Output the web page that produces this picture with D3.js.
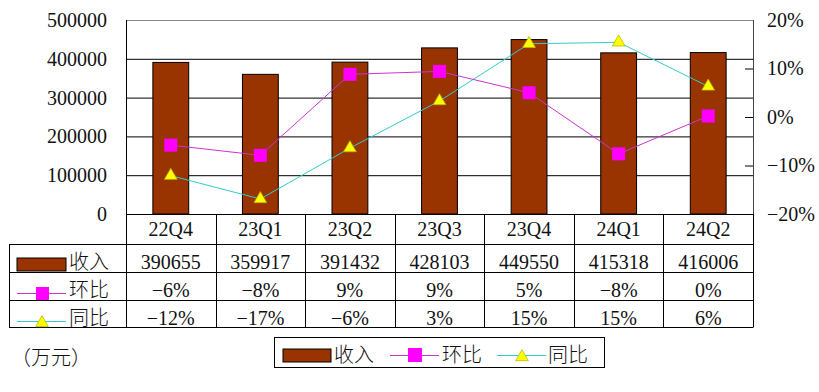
<!DOCTYPE html>
<html><head><meta charset="utf-8">
<script src="https://cdn.jsdelivr.net/npm/d3@7"></script>
<style>
body{margin:0;background:#fff;}
svg{display:block;}
text{fill:#111;}
</style></head>
<body><svg id="c" width="819" height="392"></svg>
<script>
const categories = ["22Q4","23Q1","23Q2","23Q3","23Q4","24Q1","24Q2"];
const revenue = [390655,359917,391432,428103,449550,415318,416006];
const qoq = [-5.8,-7.9,8.8,9.4,5.0,-7.6,0.2];
const yoy = [-12.1,-16.9,-6.4,3.3,15.1,15.4,6.3];
const qoqLabels = ["−6%","−8%","9%","9%","5%","−8%","0%"];
const yoyLabels = ["−12%","−17%","−6%","3%","15%","15%","6%"];
const leftTicks = [0,100000,200000,300000,400000,500000];
const rightTicks = [-20,-10,0,10,20];
const seriesNames = ["收入","环比","同比"];

const numFont = "'Liberation Serif','DejaVu Serif',serif";
const cjkFont = "'Noto Sans CJK SC','Noto Sans',sans-serif";
const brown = "#993300", magenta = "#FF00FF", magLine = "#CC33CC", teal = "#33CCCC", yellow = "#FFFF00";
const FS = 20;

const svg = d3.select("#c");
const L = 126, R = 753, T = 20, B = 214;
const x = d3.scaleBand().domain(categories).range([L, R]).padding(0);
const yL = d3.scaleLinear().domain([0,500000]).range([B, T]);
const yR = d3.scaleLinear().domain([-20,20]).range([B, T]);
const bw = x.bandwidth()*0.4;

// gridlines
svg.append("g").selectAll("line").data(leftTicks.slice(1)).join("line")
  .attr("x1", L).attr("x2", R).attr("y1", d=>yL(d)+0.5).attr("y2", d=>yL(d)+0.5)
  .attr("stroke", d=> d===500000 ? "#888" : "#000").attr("stroke-width",1);

// bars
svg.append("g").selectAll("rect").data(revenue).join("rect")
  .attr("x",(d,i)=>x(categories[i])+x.bandwidth()/2-bw/2)
  .attr("y",d=>yL(d)).attr("width",bw).attr("height",d=>B-yL(d))
  .attr("fill",brown).attr("stroke","#000").attr("stroke-width",1);

// plot borders
svg.append("line").attr("x1",L+0.5).attr("x2",L+0.5).attr("y1",T).attr("y2",327).attr("stroke","#000");
svg.append("line").attr("x1",R+0.5).attr("x2",R+0.5).attr("y1",T).attr("y2",B).attr("stroke","#444");

// left axis
const gL = svg.append("g").attr("transform",`translate(${L},0)`)
  .call(d3.axisLeft(yL).tickValues(leftTicks).tickSize(0).tickPadding(19).tickFormat(d=>String(d)));
gL.select(".domain").remove();
gL.selectAll("text").attr("font-family",numFont).attr("font-size",FS).attr("fill","#111");

// right axis
const gR = svg.append("g").attr("transform",`translate(${R},0)`)
  .call(d3.axisRight(yR).tickValues(rightTicks).tickSizeInner(-8).tickSizeOuter(0).tickPadding(14)
    .tickFormat(d=> (d<0?"−":"")+Math.abs(d)+"%"));
gR.select(".domain").remove();
gR.selectAll("line").attr("stroke",d=> (d===20||d===-20) ? "none" : "#000");
gR.selectAll("text").attr("font-family",numFont).attr("font-size",FS).attr("fill","#111");

// lines
const lineQ = d3.line().x((d,i)=>x(categories[i])+x.bandwidth()/2).y(d=>yR(d));
svg.append("path").datum(yoy).attr("d",lineQ).attr("fill","none").attr("stroke",teal).attr("stroke-width",1);
svg.append("path").datum(qoq).attr("d",lineQ).attr("fill","none").attr("stroke",magLine).attr("stroke-width",1);

const tri = d3.symbol().type(d3.symbolTriangle).size(70);
svg.append("g").selectAll("path").data(yoy).join("path")
  .attr("transform",(d,i)=>`translate(${x(categories[i])+x.bandwidth()/2},${yR(d)})`)
  .attr("d",tri()).attr("fill",yellow).attr("stroke","#b8b800").attr("stroke-width",0.8);
svg.append("g").selectAll("rect").data(qoq).join("rect")
  .attr("x",(d,i)=>x(categories[i])+x.bandwidth()/2-6.5).attr("y",d=>yR(d)-6.5)
  .attr("width",13).attr("height",13).attr("fill",magenta);

// table
const tL = 9;
const tg = svg.append("g");
[244,272,300,327].forEach(y=>{
  tg.append("line").attr("x1",tL).attr("x2",R+0.5).attr("y1",y+0.5).attr("y2",y+0.5).attr("stroke","#000");
});
tg.append("line").attr("x1",L).attr("x2",R).attr("y1",B+0.5).attr("y2",B+0.5).attr("stroke","#000");
tg.append("line").attr("x1",tL+0.5).attr("x2",tL+0.5).attr("y1",244).attr("y2",327).attr("stroke","#000");
categories.forEach((c,i)=>{
  const xr = x(c)+x.bandwidth();
  tg.append("line").attr("x1",Math.round(xr)+0.5).attr("x2",Math.round(xr)+0.5).attr("y1",B).attr("y2",327).attr("stroke","#000");
});
tg.selectAll("text.cat").data(categories).join("text").attr("class","cat")
  .attr("x",d=>x(d)+x.bandwidth()/2).attr("y",236).attr("text-anchor","middle")
  .attr("font-family",numFont).attr("font-size",FS).text(d=>d);
const rows = [revenue.map(String), qoqLabels, yoyLabels];
const rowBase = [269,297,325];
rows.forEach((r,ri)=>{
  tg.selectAll("text.r"+ri).data(r).join("text").attr("class","r"+ri)
    .attr("x",(d,i)=>x(categories[i])+x.bandwidth()/2).attr("y",rowBase[ri]).attr("text-anchor","middle")
    .attr("font-family",numFont).attr("font-size",FS).text(d=>d);
});
// row headers
tg.append("rect").attr("x",17).attr("y",258).attr("width",49).attr("height",13).attr("fill",brown).attr("stroke","#000");
tg.append("line").attr("x1",17).attr("x2",66).attr("y1",293.5).attr("y2",293.5).attr("stroke",magLine);
tg.append("rect").attr("x",36).attr("y",287).attr("width",13).attr("height",13).attr("fill",magenta);
tg.append("line").attr("x1",17).attr("x2",66).attr("y1",321.5).attr("y2",321.5).attr("stroke",teal);
tg.append("path").attr("transform","translate(42,323)").attr("d",tri()).attr("fill",yellow).attr("stroke","#b8b800").attr("stroke-width",0.8);
seriesNames.forEach((s,i)=>{
  tg.append("text").attr("x",69).attr("y",rowBase[i]).attr("font-family",cjkFont).attr("font-size",FS).attr("font-weight",300).attr("fill","#222").text(s);
});

// unit
svg.append("text").attr("x",11).attr("y",365).attr("font-family",cjkFont).attr("font-size",20).attr("font-weight",300).attr("fill","#222").text("（万元）");

// legend
const lg = svg.append("g");
lg.append("rect").attr("x",274.5).attr("y",337.5).attr("width",330).attr("height",30).attr("fill","#fff").attr("stroke","#000");
lg.append("rect").attr("x",283).attr("y",349).attr("width",48).attr("height",13).attr("fill",brown).attr("stroke","#000");
lg.append("line").attr("x1",390).attr("x2",439).attr("y1",355.5).attr("y2",355.5).attr("stroke",magLine);
lg.append("rect").attr("x",408).attr("y",348).attr("width",14).attr("height",14).attr("fill",magenta);
lg.append("line").attr("x1",497).attr("x2",546).attr("y1",355.5).attr("y2",355.5).attr("stroke",teal);
lg.append("path").attr("transform","translate(522,357)").attr("d",tri()).attr("fill",yellow).attr("stroke","#b8b800").attr("stroke-width",0.8);
const lgX = [334,442,548];
seriesNames.forEach((s,i)=>{
  lg.append("text").attr("x",lgX[i]).attr("y",362).attr("font-family",cjkFont).attr("font-size",FS).attr("font-weight",300).attr("fill","#222").text(s);
});
</script></body></html>
